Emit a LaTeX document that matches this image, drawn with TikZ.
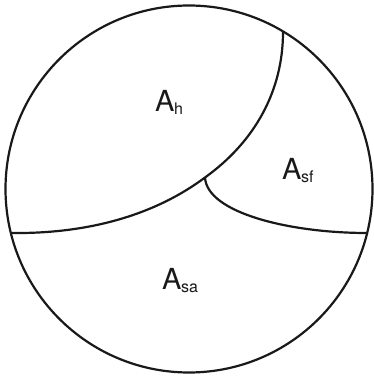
\documentclass[tikz,border=0pt]{standalone}
\usepackage{fontspec}
\setmainfont{TeX Gyre Heros}
\newcommand{\lbl}[2]{\fontsize{29}{29}\selectfont #1\kern-0.5pt\raisebox{-3pt}{\fontsize{16}{16}\selectfont #2}}
\begin{document}
\begin{tikzpicture}[x=1pt,y=1pt,
  outline/.style={line width=2.2pt,draw=black!90},
  areatext/.style={inner sep=0pt,text=black!90,anchor=base west}]
\useasboundingbox (0,0) rectangle (373,378);
\coordinate (c) at (189,189);
\coordinate (L) at (11,145);
\coordinate (R) at (367,145);
\coordinate (J) at (205,200.5);
\coordinate (T) at (283,346);
\draw[outline] (c) circle (183.5);
\draw[outline] (L) .. controls (90.5,144) and (156,164) .. (J)
  .. controls (254.75,236.25) and (283,287) .. (T);
\draw[outline] (J) .. controls (207,165) and (290,145) .. (R);
\node[areatext] (ah) at (155,266) {\lbl{A}{h}};
\node[areatext] (asf) at (282,198) {\lbl{A}{sf}};
\node[areatext] (asa) at (162,88) {\lbl{A}{sa}};
\end{tikzpicture}
\end{document}
